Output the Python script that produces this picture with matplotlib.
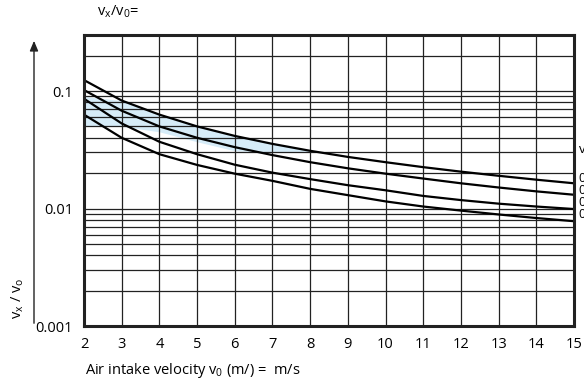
import numpy as np
import matplotlib
matplotlib.use("Agg")
import matplotlib.pyplot as plt
from matplotlib.ticker import LogLocator, NullFormatter

plt.rcParams['font.family'] = ['Open Sans', 'DejaVu Sans']

# air intake velocity v0 (m/s)
velocity = [2, 3, 4, 5, 6, 7, 8, 9, 10, 11, 12, 13, 14, 15]

# vx/v0, top to bottom
curve_1 = [0.124, 0.083, 0.063, 0.050, 0.0415, 0.0355, 0.031, 0.0275, 0.0248, 0.0225, 0.0206, 0.019, 0.0176, 0.0164]
curve_2 = [0.102, 0.068, 0.050, 0.040, 0.0333, 0.0285, 0.0248, 0.022, 0.0198, 0.018, 0.0164, 0.0151, 0.014, 0.0131]
curve_3 = [0.086, 0.053, 0.037, 0.029, 0.0236, 0.0202, 0.0178, 0.0158, 0.0143, 0.0128, 0.0118, 0.0110, 0.0104, 0.0099]
curve_4 = [0.063, 0.040, 0.029, 0.0235, 0.0198, 0.0172, 0.0147, 0.013, 0.0115, 0.0104, 0.0096, 0.0089, 0.0083, 0.0078]

# shaded zone: upper limit and lower edge (read at the same velocities)
zone_top = 0.09
zone_lower = [0.05, 0.05, 0.045, 0.037, 0.031, 0.03, 0.03, 0.03, 0.03, 0.03, 0.03, 0.03, 0.03, 0.03]

y_ticks = [0.001, 0.01, 0.1]
y_ticklabels = ["0.001", "0.01", "0.1"]

fig = plt.figure(figsize=(5.84, 3.83), dpi=100)
ax = fig.add_axes([84/584, 1-326/383, 490/584, 291/383])

x = np.array(velocity)
upper = np.minimum(np.array(curve_1), zone_top)
lower = np.array(zone_lower)
ax.fill_between(x, lower, upper, where=upper > lower, interpolate=True,
                color='#d6ecf8', lw=0, zorder=1)

for c in (curve_1, curve_2, curve_3, curve_4):
    ax.plot(velocity, c, color='black', lw=1.6, zorder=3, solid_capstyle='butt')

ax.set_yscale('log')
ax.set_xlim(2, 15)
ax.set_ylim(0.001, 0.3)

ax.set_xticks(velocity)
ax.set_xticklabels([str(v) for v in velocity])
ax.set_yticks(y_ticks)
ax.set_yticklabels(y_ticklabels)
ax.yaxis.set_minor_locator(LogLocator(base=10, subs=np.arange(2, 10)))
ax.yaxis.set_minor_formatter(NullFormatter())

ax.grid(True, which='both', axis='y', color='#222222', lw=0.9, zorder=2)
ax.grid(True, which='major', axis='x', color='#222222', lw=0.9, zorder=2)
ax.set_axisbelow(False)
ax.tick_params(axis='both', which='both', length=0, labelsize=10.5)
ax.tick_params(axis='y', pad=8)
ax.tick_params(axis='x', pad=8)

for s in ax.spines.values():
    s.set_linewidth(2.2)
    s.set_color('#222222')
    s.set_zorder(4)

# labels
fig.text(118/584, 1-12/383, r"v$_\mathregular{x}$/v$_\mathregular{0}$=", fontsize=10.5,
         ha='center', va='center')
fig.text(85/584, 1-370/383, r"Air intake velocity v$_\mathregular{0}$ (m/) =  m/s",
         fontsize=10.5, ha='left', va='center')
fig.text(18/584, 1-298/383, r"v$_\mathregular{x}$ / v$_\mathregular{o}$", fontsize=10.5,
         rotation=90, ha='center', va='center')

# arrow on the left
fig.add_artist(matplotlib.patches.FancyArrowPatch(
    (34/584, 1-326/383), (34/584, 1-38/383), transform=fig.transFigure,
    arrowstyle='-|>,head_length=6,head_width=2.5', color='#222222', lw=1.0))

# labels cut off at the right edge
fig.text(578/584, 1-150/383, "v$_\\mathregular{x}$/v$_\\mathregular{0}$", fontsize=9.5, va='center')
for i, lab in enumerate(["0.25", "0.20", "0.15", "0.12"]):
    fig.text(578/584, 1-(179 + 12*i)/383, lab, fontsize=9, va='center')

fig.savefig("out.png", dpi=100)
